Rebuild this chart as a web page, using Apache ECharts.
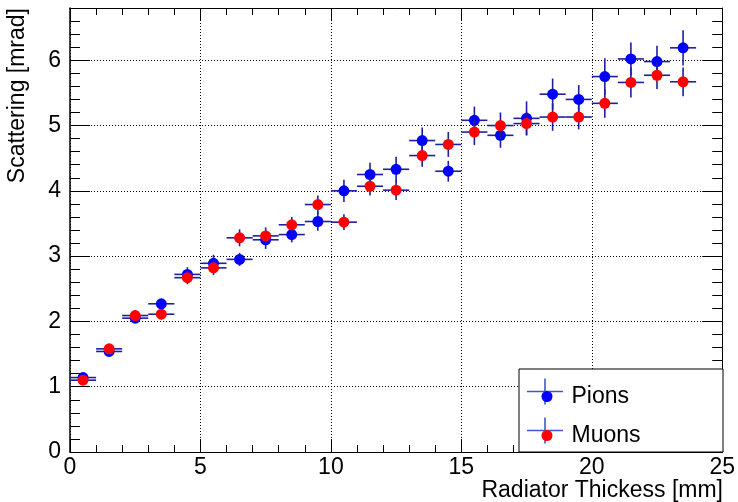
<!DOCTYPE html>
<html>
<head>
<meta charset="utf-8">
<script src="https://cdn.jsdelivr.net/npm/echarts@6.0.0/dist/echarts.min.js"></script>
<style>
html,body{margin:0;padding:0;background:#fff;}
#main{width:738px;height:502px;}
</style>
</head>
<body>
<div id="main"></div>
<script>
// ---- data ----
const thickness = [0.5, 1.5, 2.5, 3.5, 4.5, 5.5, 6.5, 7.5, 8.5, 9.5, 10.5, 11.5, 12.5, 13.5, 14.5, 15.5, 16.5, 17.5, 18.5, 19.5, 20.5, 21.5, 22.5, 23.5];
const thicknessErr = [0.5, 0.5, 0.5, 0.5, 0.5, 0.5, 0.5, 0.5, 0.5, 0.5, 0.5, 0.5, 0.5, 0.5, 0.5, 0.5, 0.5, 0.5, 0.5, 0.5, 0.5, 0.5, 0.5, 0.5];
const pions = [1.14, 1.54, 2.05, 2.27, 2.72, 2.89, 2.95, 3.25, 3.33, 3.53, 4.00, 4.25, 4.33, 4.77, 4.30, 5.08, 4.85, 5.11, 5.48, 5.40, 5.75, 6.02, 5.98, 6.19];
const pionsErr = [0.03, 0.04, 0.07, 0.05, 0.11, 0.13, 0.10, 0.14, 0.12, 0.14, 0.17, 0.18, 0.19, 0.20, 0.16, 0.21, 0.19, 0.26, 0.24, 0.22, 0.28, 0.25, 0.24, 0.27];
const muons = [1.10, 1.58, 2.09, 2.11, 2.67, 2.82, 3.28, 3.31, 3.48, 3.79, 3.52, 4.07, 4.01, 4.54, 4.71, 4.90, 5.00, 5.03, 5.13, 5.13, 5.34, 5.66, 5.77, 5.67];
const muonsErr = [0.03, 0.04, 0.08, 0.05, 0.10, 0.11, 0.13, 0.13, 0.12, 0.14, 0.12, 0.14, 0.15, 0.17, 0.19, 0.20, 0.20, 0.18, 0.21, 0.19, 0.22, 0.23, 0.21, 0.22];
const xTickLabels = [0, 5, 10, 15, 20, 25];
const yTickLabels = [0, 1, 2, 3, 4, 5, 6];
const xTitle = 'Radiator Thickess [mm]';
const yTitle = 'Scattering [mrad]';
const seriesNames = ['Pions', 'Muons'];

// ---- styling ----
const F = '"Liberation Sans", Arial, Helvetica, sans-serif';
const FS = 23;
const ERR_COLOR = '#1f1fa0';
const X_MIN = 0, X_MAX = 25, Y_MIN = 0, Y_MAX = 6.8;

function xAx(pos, interval, major) {
  return {
    type: 'value', min: X_MIN, max: X_MAX, interval: interval, position: pos,
    axisLine: {show: major, onZero: false, lineStyle: {color: '#000', width: 1}},
    axisTick: {show: true, inside: true, length: major ? 13 : 7, lineStyle: {color: '#000', width: 1}},
    axisLabel: (major && pos === 'bottom') ? {
      show: true, margin: 4, fontSize: FS, fontFamily: F, color: '#000',
      formatter: v => xTickLabels.includes(v) ? String(v) : ''
    } : {show: false},
    splitLine: (major && pos === 'bottom') ? {show: true, lineStyle: {color: '#000', type: [1, 2], width: 1}} : {show: false}
  };
}
function yAx(pos, interval, major) {
  return {
    type: 'value', min: Y_MIN, max: Y_MAX, interval: interval, position: pos,
    axisLine: {show: major, onZero: false, lineStyle: {color: '#000', width: pos === 'left' ? 1.5 : 1}},
    axisTick: {show: true, inside: true, length: major ? 20 : 10, lineStyle: {color: '#000', width: 1}},
    axisLabel: (major && pos === 'left') ? {
      show: true, margin: 9, fontSize: FS, fontFamily: F, color: '#000',
      formatter: v => yTickLabels.includes(v) ? String(v) : ''
    } : {show: false},
    splitLine: (major && pos === 'left') ? {show: true, lineStyle: {color: '#000', type: [1, 2], width: 1}} : {show: false}
  };
}

function errData(xs, ys, eys, exs) {
  return xs.map((x, i) => [x, ys[i], eys[i], exs[i]]);
}
function renderErr(params, api) {
  const x = api.value(0), y = api.value(1), ey = api.value(2), ex = api.value(3);
  const l = api.coord([x - ex, y]), r = api.coord([x + ex, y]);
  const t = api.coord([x, y + ey]), b = api.coord([x, y - ey]);
  const st = {stroke: ERR_COLOR, lineWidth: 1.6, fill: null};
  return {
    type: 'group',
    children: [
      {type: 'line', shape: {x1: l[0], y1: l[1], x2: r[0], y2: r[1]}, style: st},
      {type: 'line', shape: {x1: t[0], y1: t[1], x2: b[0], y2: b[1]}, style: st}
    ]
  };
}

const chart = echarts.init(document.getElementById('main'), null, {renderer: 'canvas'});
const legendCross = (cy) => ([
  {type: 'line', shape: {x1: 527, y1: cy, x2: 563, y2: cy}, style: {stroke: '#4455c4', lineWidth: 1.6}, z: 101},
  {type: 'line', shape: {x1: 545, y1: cy - 13, x2: 545, y2: cy + 13}, style: {stroke: '#4455c4', lineWidth: 1.6}, z: 101}
]);

chart.setOption({
  animation: false,
  backgroundColor: '#fff',
  grid: {left: 70, right: 15, top: 8, bottom: 50, containLabel: false},
  xAxis: [xAx('bottom', 5, true), xAx('bottom', 1, false), xAx('top', 5, true), xAx('top', 1, false)],
  yAxis: [yAx('left', 1, true), yAx('left', 0.2, false), yAx('right', 1, true), yAx('right', 0.2, false)],
  legend: {
    show: true, orient: 'vertical', left: 536.5, top: 380, itemGap: 16,
    itemWidth: 11, itemHeight: 11, icon: 'circle', selectedMode: false,
    textStyle: {fontSize: FS, fontFamily: F, color: '#000', padding: [0, 0, 0, 14]},
    data: seriesNames, z: 102
  },
  graphic: [
    {type: 'rect', shape: {x: 519, y: 369, width: 204, height: 83}, style: {fill: '#fff', stroke: '#000', lineWidth: 1}, z: 100},
    ...legendCross(391.5),
    ...legendCross(430.5),
    {type: 'text', x: 723, y: 491, style: {text: xTitle, font: FS + 'px ' + F, fill: '#000', align: 'right', verticalAlign: 'middle'}},
    {type: 'text', x: 18, y: 8, rotation: Math.PI / 2, style: {text: yTitle, font: FS + 'px ' + F, fill: '#000', align: 'right', verticalAlign: 'middle'}}
  ],
  series: [
    {
      name: 'Pions error', type: 'custom', xAxisIndex: 0, yAxisIndex: 0,
      renderItem: renderErr, encode: {x: 0, y: 1},
      data: errData(thickness, pions, pionsErr, thicknessErr), z: 2, silent: true
    },
    {
      name: seriesNames[0], type: 'scatter', xAxisIndex: 0, yAxisIndex: 0,
      symbol: 'circle', symbolSize: 11, itemStyle: {color: '#0000ff', opacity: 1},
      data: thickness.map((x, i) => [x, pions[i]]), z: 3
    },
    {
      name: 'Muons error', type: 'custom', xAxisIndex: 0, yAxisIndex: 0,
      renderItem: renderErr, encode: {x: 0, y: 1},
      data: errData(thickness, muons, muonsErr, thicknessErr), z: 4, silent: true
    },
    {
      name: seriesNames[1], type: 'scatter', xAxisIndex: 0, yAxisIndex: 0,
      symbol: 'circle', symbolSize: 11, itemStyle: {color: '#ff0000', opacity: 1},
      data: thickness.map((x, i) => [x, muons[i]]), z: 5
    }
  ]
});
</script>
</body>
</html>
